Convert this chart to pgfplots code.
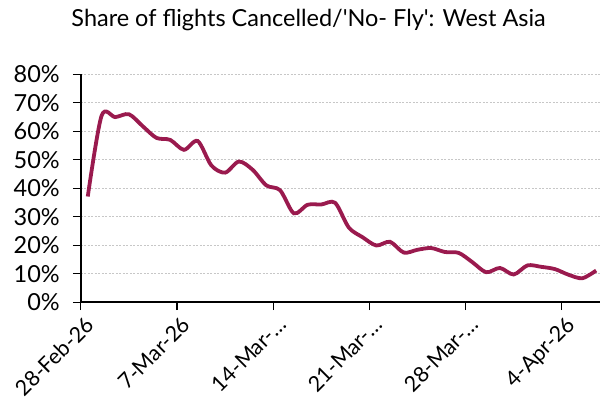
\documentclass[border=0pt]{standalone}
\usepackage{pgfplots}
\pgfplotsset{compat=1.18}
\usepackage{fontspec}
\setmainfont{Lato}
\definecolor{linecol}{HTML}{9A1A4E}
\pgfplotstableread{
i v
0 37.1
1 65.4
2 65.0
3 66.0
4 61.8
5 57.7
6 57.0
7 53.5
8 56.6
9 48.0
10 45.5
11 49.4
12 46.5
13 41.0
14 39.3
15 31.2
16 34.2
17 34.3
18 34.9
19 26.2
20 22.8
21 19.9
22 21.2
23 17.4
24 18.4
25 19.0
26 17.6
27 17.3
28 14.0
29 10.5
30 12.0
31 9.7
32 12.9
33 12.4
34 11.6
35 9.6
36 8.4
37 11.1
}\datatable
\begin{document}
\begin{tikzpicture}[font=\fontsize{23.5bp}{27bp}\selectfont]
\path (-81bp,-111.5bp) rectangle (520bp,302.5bp);
\begin{axis}[
  at={(0,0)}, anchor=south west, scale only axis,
  width=520bp, height=228bp,
  xmin=-0.5, xmax=37.3, ymin=0, ymax=80,
  axis x line*=bottom, axis y line*=left,
  xtick={-0.5,6.5,13.5,20.5,27.5,34.5},
  xticklabels={28-Feb-26,7-Mar-26,14-Mar-…,21-Mar-…,28-Mar-…,4-Apr-26},
  ytick={0,10,20,30,40,50,60,70,80},
  yticklabels={0\%,10\%,20\%,30\%,40\%,50\%,60\%,70\%,80\%},
  tick align=outside, major tick length=8bp,
  tick style={black, line width=1.2bp},
  axis line style={black, line width=1.5bp},
  ymajorgrids, grid style={dash pattern=on 2bp off 1.5bp, black!22, line width=0.8bp},
  x tick label style={rotate=45, anchor=north east, inner sep=2bp, font=\fontsize{21.5bp}{25bp}\selectfont, xshift=1bp, yshift=-4bp},
  y tick label style={inner sep=2bp, xshift=-11bp},
  clip=false,
]
\addplot[linecol, line width=3.8bp, smooth, tension=0.5] table[x=i, y=v] {\datatable};
\end{axis}
\node[anchor=base] at (228bp,275.5bp) {Share of flights Cancelled/\textquotesingle No- Fly\textquotesingle: West Asia};
\end{tikzpicture}
\end{document}
